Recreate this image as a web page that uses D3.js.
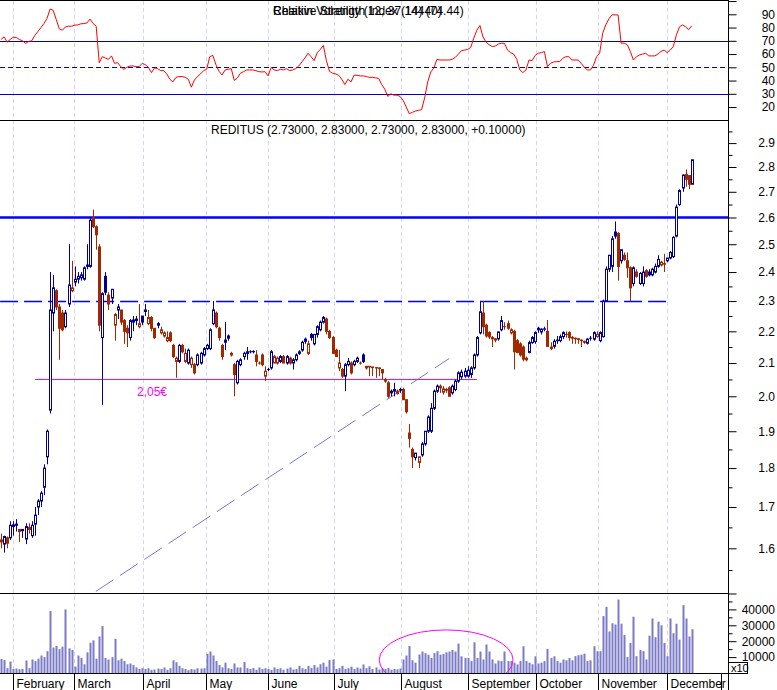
<!DOCTYPE html>
<html><head><meta charset="utf-8">
<script src="https://cdn.jsdelivr.net/npm/d3@7"></script>
<style>
body{margin:0;background:#fff;}
svg{display:block;font-family:"Liberation Sans",Arial,sans-serif;}
</style>
</head><body>
<svg id="c" width="777" height="690"></svg>
<script>
// ---------------- DATA ----------------
const open=[
1.62,1.61,1.625,1.625,1.652,1.655,1.645,1.645,1.622,1.645,
1.63,1.658,1.70,1.715,1.75,1.83,1.96,2.26,2.335,2.28,
2.26,2.215,2.29,2.335,2.365,2.375,2.38,2.375,2.425,2.42,
2.60,2.565,2.49,2.18,2.385,2.32,2.31,2.22,2.27,2.27,
2.235,2.21,2.18,2.23,2.235,2.215,2.25,2.27,2.225,2.245,
2.21,2.225,2.195,2.185,2.17,2.195,2.155,2.105,2.105,2.155,
2.105,2.10,2.095,2.095,2.095,2.10,2.125,2.145,2.145,2.225,
2.26,2.21,2.155,2.165,2.185,2.125,2.095,2.04,2.095,2.12,
2.13,2.135,2.135,2.125,2.10,2.125,2.06,2.08,2.085,2.10,
2.10,2.105,2.12,2.10,2.115,2.10,2.11,2.13,2.14,2.175,
2.13,2.19,2.16,2.19,2.205,2.23,2.24,2.20,2.18,2.14,
2.085,2.08,2.06,2.095,2.10,2.095,2.105,2.10,2.125,2.085,
2.09,2.088,2.086,2.085,2.08,2.045,2.04,2.01,2.015,2.015,
2.02,2.02,1.99,1.895,1.85,1.828,1.815,1.835,1.865,1.90,
1.90,1.965,2.015,2.03,2.012,2.02,2.025,2.01,2.02,2.045,
2.058,2.06,2.06,2.065,2.085,2.125,2.195,2.26,2.22,2.196,
2.18,2.176,2.176,2.205,2.215,2.225,2.195,2.20,2.17,2.16,
2.15,2.115,2.133,2.164,2.167,2.21,2.198,2.207,2.20,2.145,
2.152,2.17,2.17,2.183,2.19,2.196,2.18,2.178,2.176,2.172,
2.168,2.162,2.178,2.175,2.183,2.17,2.183,2.30,2.41,2.42,
2.545,2.54,2.44,2.46,2.44,2.415,2.36,2.40,2.36,2.36,
2.405,2.40,2.39,2.40,2.42,2.425,2.43,2.44,2.45,2.455,
2.53,2.65,2.715,2.77,2.765,2.73];
const high=[
1.635,1.63,1.628,1.665,1.665,1.67,1.645,1.645,1.66,1.66,
1.665,1.70,1.72,1.74,1.81,1.905,2.40,2.39,2.34,2.29,
2.27,2.27,2.50,2.44,2.42,2.40,2.40,2.42,2.50,2.60,
2.63,2.57,2.50,2.33,2.40,2.33,2.34,2.26,2.29,2.27,
2.24,2.22,2.24,2.25,2.25,2.29,2.25,2.29,2.27,2.25,
2.21,2.23,2.215,2.20,2.20,2.20,2.16,2.12,2.16,2.16,
2.145,2.145,2.12,2.10,2.13,2.135,2.15,2.16,2.21,2.30,
2.265,2.215,2.16,2.23,2.19,2.135,2.10,2.11,2.115,2.135,
2.15,2.14,2.14,2.14,2.105,2.13,2.09,2.085,2.14,2.125,
2.12,2.125,2.125,2.125,2.12,2.115,2.13,2.14,2.17,2.18,
2.17,2.195,2.19,2.22,2.235,2.25,2.245,2.205,2.185,2.145,
2.14,2.085,2.10,2.115,2.105,2.11,2.12,2.105,2.13,2.09,
2.09,2.088,2.088,2.086,2.08,2.055,2.045,2.02,2.04,2.02,
2.025,2.025,1.99,1.92,1.855,1.84,1.83,1.87,1.90,1.945,
1.98,2.02,2.035,2.035,2.03,2.025,2.03,2.035,2.05,2.075,
2.08,2.085,2.09,2.09,2.13,2.185,2.30,2.30,2.225,2.20,
2.185,2.178,2.20,2.25,2.23,2.235,2.21,2.205,2.175,2.165,
2.155,2.12,2.17,2.185,2.20,2.215,2.21,2.215,2.237,2.165,
2.175,2.185,2.19,2.20,2.20,2.20,2.185,2.18,2.178,2.174,
2.17,2.178,2.185,2.20,2.20,2.20,2.305,2.42,2.46,2.53,
2.585,2.545,2.48,2.47,2.47,2.42,2.42,2.41,2.40,2.42,
2.41,2.41,2.415,2.43,2.46,2.44,2.465,2.45,2.475,2.53,
2.65,2.71,2.77,2.79,2.765,2.83];
const low=[
1.60,1.59,1.60,1.62,1.63,1.64,1.615,1.625,1.61,1.635,
1.625,1.63,1.68,1.70,1.73,1.81,1.95,2.20,2.27,2.11,
2.20,2.21,2.28,2.33,2.35,2.36,2.37,2.37,2.41,2.415,
2.56,2.48,2.20,1.975,2.32,2.27,2.29,2.17,2.24,2.22,
2.16,2.15,2.17,2.20,2.22,2.21,2.22,2.25,2.22,2.20,
2.175,2.21,2.19,2.18,2.165,2.165,2.115,2.055,2.10,2.13,
2.10,2.095,2.085,2.065,2.09,2.095,2.12,2.14,2.14,2.22,
2.21,2.17,2.11,2.14,2.17,2.12,2.00,2.035,2.09,2.11,
2.11,2.13,2.13,2.09,2.095,2.09,2.045,2.075,2.08,2.10,
2.095,2.10,2.10,2.095,2.095,2.08,2.105,2.125,2.135,2.16,
2.125,2.17,2.155,2.18,2.20,2.225,2.19,2.175,2.13,2.12,
2.075,2.055,2.015,2.09,2.065,2.09,2.10,2.095,2.10,2.08,
2.06,2.06,2.055,2.06,2.05,2.04,1.995,2.00,2.00,2.005,
2.01,1.99,1.95,1.855,1.80,1.82,1.80,1.83,1.86,1.895,
1.895,1.96,2.01,2.01,2.005,2.01,2.00,2.005,2.015,2.04,
2.05,2.055,2.055,2.055,2.08,2.12,2.19,2.19,2.18,2.175,
2.15,2.165,2.17,2.20,2.205,2.205,2.19,2.08,2.13,2.12,
2.105,2.105,2.13,2.16,2.16,2.195,2.19,2.20,2.15,2.14,
2.145,2.16,2.165,2.175,2.18,2.17,2.16,2.16,2.16,2.15,
2.16,2.158,2.17,2.17,2.18,2.165,2.18,2.30,2.40,2.40,
2.52,2.37,2.43,2.44,2.38,2.30,2.35,2.38,2.355,2.35,
2.38,2.385,2.385,2.395,2.415,2.42,2.40,2.435,2.445,2.45,
2.525,2.645,2.70,2.72,2.71,2.73];
const close=[
1.615,1.628,1.612,1.655,1.656,1.658,1.64,1.642,1.652,1.65,
1.655,1.68,1.715,1.735,1.80,1.90,2.27,2.345,2.28,2.21,
2.205,2.26,2.355,2.345,2.375,2.385,2.39,2.415,2.42,2.59,
2.565,2.535,2.22,2.325,2.33,2.29,2.34,2.255,2.28,2.23,
2.20,2.195,2.235,2.237,2.24,2.225,2.23,2.265,2.245,2.21,
2.18,2.22,2.205,2.195,2.18,2.17,2.12,2.115,2.155,2.135,
2.13,2.14,2.115,2.07,2.125,2.13,2.145,2.155,2.205,2.27,
2.215,2.18,2.12,2.172,2.178,2.13,2.065,2.105,2.11,2.13,
2.135,2.135,2.136,2.105,2.10,2.095,2.075,2.08,2.135,2.12,
2.115,2.12,2.10,2.12,2.10,2.11,2.125,2.135,2.165,2.168,
2.16,2.18,2.19,2.215,2.23,2.245,2.20,2.18,2.13,2.12,
2.10,2.06,2.095,2.105,2.07,2.105,2.115,2.10,2.105,2.09,
2.088,2.086,2.085,2.083,2.07,2.05,2.00,2.015,2.02,2.008,
2.018,1.99,1.955,1.88,1.83,1.84,1.83,1.865,1.90,1.94,
1.965,2.015,2.03,2.025,2.022,2.018,2.00,2.03,2.045,2.07,
2.072,2.075,2.078,2.085,2.125,2.18,2.264,2.215,2.185,2.182,
2.176,2.172,2.198,2.235,2.215,2.21,2.205,2.135,2.133,2.125,
2.112,2.11,2.164,2.18,2.196,2.205,2.207,2.208,2.152,2.15,
2.168,2.172,2.183,2.196,2.19,2.18,2.178,2.176,2.174,2.17,
2.165,2.175,2.178,2.196,2.19,2.196,2.30,2.41,2.46,2.52,
2.53,2.42,2.48,2.445,2.415,2.345,2.415,2.385,2.395,2.40,
2.385,2.39,2.41,2.42,2.445,2.435,2.428,2.45,2.47,2.525,
2.64,2.705,2.767,2.75,2.73,2.83];
const volume=[
8800,8200,3000,7200,2500,2800,2400,2600,7900,3000,
8500,7500,9000,11000,10000,13700,39000,16000,17000,15000,
16500,40000,15500,14500,4000,11000,9500,5500,13000,19000,
20500,9000,23000,29500,9500,8500,10000,21500,8000,9000,
7500,5500,6000,5000,3500,2500,3000,2500,3000,2000,
2200,2800,2500,3500,2000,3000,8000,6800,4500,3000,
2500,1800,2500,2200,3000,2800,3000,12000,13500,11000,
7500,5000,3500,6500,3000,2500,6000,3500,3500,6900,
3000,2500,3200,2000,3500,2500,3000,2500,2000,3500,
2500,3000,2000,2800,3500,2200,2500,4500,3000,2500,
4500,3200,5000,3500,5500,6500,4000,8100,8500,2500,
3000,4500,2500,3000,4000,2500,3500,2800,5400,3000,
4200,2500,3500,2200,3000,2500,3200,2000,2500,2300,
2800,8500,11000,17000,8000,6500,11600,13500,12500,11500,
9500,12500,13700,11500,12000,13000,13500,14500,13500,18500,
10500,9500,9500,7500,19300,9500,13500,8500,17900,13500,
8500,6000,7800,7500,13500,7500,7500,6500,5400,7500,
16800,7500,6500,5500,10500,6000,6500,7500,15200,9500,
10500,7500,6500,8500,8000,9500,8000,10600,11200,11500,
12200,7500,8000,16800,13700,13700,35800,41600,26100,31300,
30500,46200,31000,24000,10000,18900,35400,10600,14500,13700,
8500,23500,34300,22500,32300,30000,18900,10600,34300,25000,
31000,21000,42700,34300,23000,27500];
const rsi=[
71,73,69,71,72.7,72.5,71,70,68,69.5,
70,74,77,80,83,87,94,93,86,79,
78,80.5,81,81,81.8,82,82.8,83,83.5,86.4,
83,81,53.5,58,57,56,58.6,53,53.5,50.5,
48.5,50,51,51,50.5,50.5,53,52,50,46,
49.5,49,47.5,47.5,45,41,39,42.4,43,43,
42.5,41,35,40.4,43,45,47.5,48.5,58,59,
52,47,44.2,48,48.5,49,40,42,45.5,46.7,
48,48,48,47.5,46.7,46.5,46.7,43.5,50,48,
47.5,48.5,48,49,47.5,48,49,51,54,57,
60.6,58,55,61,63.5,66.5,55,47,45.5,45,
44,41,37,41,39,44,44,43.5,43.5,43,
42.4,42.4,42,41.7,37,33.5,28,30,29,29,
28,25,20,15,16,17,17.5,18,27,39,
46.5,49.5,56,55.5,55.5,55.5,55.5,56,57.5,60,
62.6,63,63.5,65,72,78,81.5,73,69,67,
65.7,66,67.5,68.2,68,63,61,60,56,48,
46,48,55.5,55,59,60.6,61,61.9,50.5,53,
54,54.3,54.3,56.8,58,58,55.5,55.5,55.5,53,
50,48,48,51.5,58,60.6,75.8,82,86.5,89.6,
89.6,89.5,68.2,68.2,67,61.9,55.5,58,59.3,60,
60.6,58.6,58.6,58.6,60,62,63,61,63,65.7,
74.5,80.5,82,80.5,78.5,81.3];

const months=["February","March","April","May","June","July","August","September","October","November","December",""];
const monthStart=[4.0,23.9,46.4,66.7,87.1,108.6,130.4,152.2,174.3,194.6,216.8,234.5];

const priceTicks=[1.6,1.7,1.8,1.9,2.0,2.1,2.2,2.3,2.4,2.5,2.6,2.7,2.8,2.9];
const priceMinor=[1.55,1.65,1.75,1.85,1.95,2.05,2.15,2.25,2.35,2.45,2.55,2.65,2.75,2.85,2.95];
const rsiTicks=[20,30,40,50,60,70,80,90,100];
const rsiLabels=[20,30,40,50,60,70,80,90];
const rsiLevels=[70,50,30];
const volTicks=[10000,20000,30000,40000,50000];
const volLabels=[10000,20000,30000,40000];
const volMinor=[5000,15000,25000,35000,45000];

const resistance=2.6, support=2.3, supportSpan=[-0.3,217.3];
const level205=2.05, level205Span=[11.1,155], level205Label="2,05€";
const trend=[{i:30.9,p:1.502},{i:146,p:2.114}];
const volEllipse={i:145,v:8200,ri:21.8,rv:18900};

const titleRSI1="Relative Strength Index (14) (74.44)";
const titleRSI2="Chaikin Volatility (12, 37.14440)";
const titlePrice="REDITUS (2.73000, 2.83000, 2.73000, 2.83000, +0.10000)";

// ---------------- CHART ----------------
const n=Math.min(open.length,high.length,low.length,close.length,volume.length,rsi.length);
const svg=d3.select("#c");
const AX=728.5;
const BLUE="#000096", RED="#a32800", VOL="#7b7bc8";

const x=d3.scaleLinear().domain([0,225]).range([1,691.75]);
const yP=d3.scaleLog().domain([1.4985,3]).range([593,120]);
const yR=d3.scaleLinear().domain([10,100]).range([120.3,1.05]);
const yV=d3.scaleLinear().domain([0,50000]).range([673,593.5]);

const defs=svg.append("defs");
defs.append("clipPath").attr("id","cp").append("rect").attr("x",0).attr("y",121).attr("width",AX).attr("height",472);
defs.append("clipPath").attr("id","cv").append("rect").attr("x",0).attr("y",593.5).attr("width",AX).attr("height",79.5);
defs.append("clipPath").attr("id","cr").append("rect").attr("x",0).attr("y",1).attr("width",AX).attr("height",119);

// month gridlines
svg.append("g").selectAll("line").data(monthStart.slice(0,11)).join("line")
  .attr("x1",d=>Math.round(x(d))+0.5).attr("x2",d=>Math.round(x(d))+0.5)
  .attr("y1",1).attr("y2",673)
  .attr("stroke","#d4d4f6").attr("stroke-dasharray","4,3");

// ---- RSI panel ----
const gR=svg.append("g").attr("clip-path","url(#cr)");
gR.selectAll("line.lvl").data(rsiLevels).join("line").attr("class","lvl")
  .attr("x1",0).attr("x2",AX).attr("y1",d=>Math.round(yR(d))+0.5).attr("y2",d=>Math.round(yR(d))+0.5)
  .attr("stroke","#0000c8").attr("stroke-width",1)
  .attr("stroke-dasharray",d=>d===50?"5,3":null);
gR.append("path").datum(rsi.slice(0,n))
  .attr("d",d3.line().x((d,i)=>x(i)).y(d=>yR(d)))
  .attr("fill","none").attr("stroke","#ff0000").attr("stroke-width",1);
svg.append("text").attr("x",273).attr("y",15).attr("font-size",12).text(titleRSI1);
svg.append("text").attr("x",273).attr("y",15).attr("font-size",12).text(titleRSI2);

// ---- price panel ----
const gP=svg.append("g").attr("clip-path","url(#cp)");
// trend line
gP.append("line")
  .attr("x1",x(trend[0].i)).attr("y1",yP(trend[0].p)).attr("x2",x(trend[1].i)).attr("y2",yP(trend[1].p))
  .attr("stroke","#7878cc").attr("stroke-width",1).attr("stroke-dasharray","21,8");
// 2.05 level
gP.append("line").attr("x1",x(level205Span[0])).attr("x2",x(level205Span[1]))
  .attr("y1",Math.round(yP(level205))+0.5).attr("y2",Math.round(yP(level205))+0.5)
  .attr("stroke","#ff00ff").attr("stroke-width",1);
gP.append("text").attr("x",x(44.3)).attr("y",yP(level205)+17).attr("font-size",12)
  .attr("fill","#ff00ff").text(level205Label);
// support dashed
gP.append("line").attr("x1",x(supportSpan[0])).attr("x2",x(supportSpan[1]))
  .attr("y1",Math.round(yP(support))+0.5).attr("y2",Math.round(yP(support))+0.5)
  .attr("stroke","#0000ff").attr("stroke-width",1.5).attr("stroke-dasharray","18,6");
// resistance
gP.append("line").attr("x1",0).attr("x2",AX)
  .attr("y1",yP(resistance)).attr("y2",yP(resistance))
  .attr("stroke","#0000ff").attr("stroke-width",2.5);

// candles
const candles=d3.range(n).map(i=>({i,o:open[i],h:high[i],l:low[i],c:close[i],pc:i>0?close[i-1]:open[i]}));
const cg=gP.append("g").selectAll("g").data(candles).join("g");
cg.append("line")
  .attr("x1",d=>Math.round(x(d.i))+0.5).attr("x2",d=>Math.round(x(d.i))+0.5)
  .attr("y1",d=>yP(d.h)).attr("y2",d=>yP(d.l))
  .attr("stroke",d=>d.c>=d.pc?BLUE:RED).attr("stroke-width",1);
cg.append("rect")
  .attr("x",d=>Math.round(x(d.i))-0.5).attr("width",2)
  .attr("y",d=>yP(Math.max(d.o,d.c))).attr("height",d=>Math.max(0.01,yP(Math.min(d.o,d.c))-yP(Math.max(d.o,d.c))))
  .attr("stroke",d=>d.c>=d.pc?BLUE:RED).attr("stroke-width",1)
  .attr("fill",d=>d.c>d.o?"#fff":(d.c>=d.pc?BLUE:RED));
svg.append("text").attr("x",211).attr("y",134).attr("font-size",12).text(titlePrice);

// ---- volume panel ----
const gV=svg.append("g").attr("clip-path","url(#cv)");
gV.selectAll("rect").data(volume.slice(0,n)).join("rect")
  .attr("x",(d,i)=>Math.round(x(i))-0.5).attr("width",2)
  .attr("y",d=>yV(d)).attr("height",d=>yV(0)-yV(d)).attr("fill",VOL);
gV.append("ellipse")
  .attr("cx",x(volEllipse.i)).attr("cy",yV(volEllipse.v))
  .attr("rx",x(volEllipse.i+volEllipse.ri)-x(volEllipse.i))
  .attr("ry",yV(0)-yV(volEllipse.rv))
  .attr("fill","none").attr("stroke","#ff00ff").attr("stroke-width",1);

// ---- frame lines ----
const frame=svg.append("g").attr("stroke","#000").attr("stroke-width",1);
[0.5,120.5,593.5,673.5].forEach(y=>frame.append("line").attr("x1",0).attr("x2",AX).attr("y1",y).attr("y2",y));
frame.append("line").attr("x1",AX).attr("x2",AX).attr("y1",0).attr("y2",690);

// ---- right axes ----
function rAxis(scale,vals,size,labels,fmt){
  const g=svg.append("g").attr("transform",`translate(${AX},0)`)
    .call(d3.axisRight(scale).tickValues(vals).tickSize(size).tickSizeOuter(0)
      .tickFormat(d=>labels&&labels.includes(d)?fmt(d):""));
  g.select(".domain").remove();
  g.selectAll("line").attr("stroke","#000");
  g.selectAll("text").attr("x",46.5).attr("text-anchor","end")
    .attr("font-size",12).attr("font-family","Liberation Sans, Arial, sans-serif").attr("fill","#000");
  return g;
}
rAxis(yR,rsiTicks,8,rsiLabels,d=>String(d));
rAxis(yP,priceTicks,8,priceTicks,d3.format(".1f"));
rAxis(yP,priceMinor,4,null,d=>"");
rAxis(yV,volTicks,8,volLabels,d=>String(d));
rAxis(yV,volMinor,4,null,d=>"");
// x10 box
svg.append("rect").attr("x",AX).attr("y",662.5).attr("width",19).attr("height",11)
  .attr("fill","#fff").attr("stroke","#000");
svg.append("text").attr("x",AX+2.5).attr("y",671.5).attr("font-size",11).text("x10");

// ---- bottom month axis ----
const gx=svg.append("g").attr("transform","translate(0,673.5)")
  .call(d3.axisBottom(x).tickValues(monthStart).tickSize(17).tickSizeOuter(0)
    .tickFormat((d,i)=>months[i]));
gx.select(".domain").remove();
gx.selectAll(".tick").attr("transform",d=>`translate(${Math.round(x(d))+0.5},0)`);
gx.selectAll("line").attr("stroke","#000");
gx.selectAll("text").attr("x",3).attr("y",14.5).attr("dy",0).attr("text-anchor","start")
  .attr("font-size",12).attr("font-family","Liberation Sans, Arial, sans-serif").attr("fill","#000");
</script>
</body></html>
